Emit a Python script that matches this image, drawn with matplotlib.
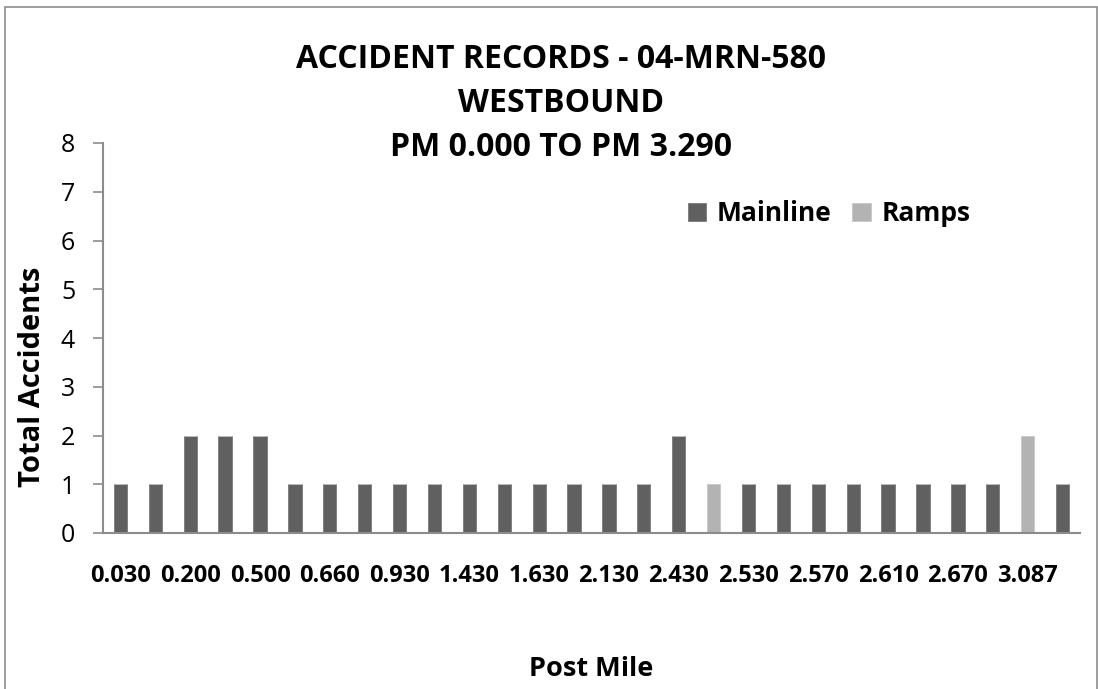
import numpy as np
import matplotlib.pyplot as plt
from matplotlib.patches import Rectangle

plt.rcParams['font.family'] = ['Open Sans', 'DejaVu Sans']

# 28 post-mile categories, only every second label is shown on the chart
shown_labels = ['0.030', '0.200', '0.500', '0.660', '0.930', '1.430', '1.630',
                '2.130', '2.430', '2.530', '2.570', '2.610', '2.670', '3.087']
mainline = [1, 1, 2, 2, 2, 1, 1, 1, 1, 1, 1, 1, 1, 1,
            1, 1, 2, 0, 1, 1, 1, 1, 1, 1, 1, 1, 0, 1]
ramps = [0, 0, 0, 0, 0, 0, 0, 0, 0, 0, 0, 0, 0, 0,
         0, 0, 0, 1, 0, 0, 0, 0, 0, 0, 0, 0, 2, 0]

dark = '#606060'
light = '#b3b3b3'
axis_gray = '#8c8c8c'

fig = plt.figure(figsize=(10.98, 6.89), dpi=100)
ax = fig.add_axes([103/1098, 1 - 533/689, (1080-103)/1098, (533-143)/689])

x = np.arange(len(mainline))
ax.bar(x, mainline, width=0.38, color=dark, edgecolor='#7a7a7a', linewidth=0.6, label='Mainline')
ax.bar(x, ramps, width=0.38, bottom=mainline, color=light, edgecolor='#c8c8c8', linewidth=0.6, label='Ramps')

ax.set_xlim(-0.5, len(mainline) - 0.5)
ax.set_ylim(0, 8)
ax.set_yticks(range(9))
ax.tick_params(axis='y', labelsize=18, length=7, color=axis_gray, width=1.2, pad=13)
ax.set_xticks(x[::2])
ax.set_xticklabels(shown_labels, fontsize=17, fontweight='bold')
ax.tick_params(axis='x', length=0, pad=22)

for s in ['top', 'right']:
    ax.spines[s].set_visible(False)
for s in ['left', 'bottom']:
    ax.spines[s].set_color(axis_gray)
    ax.spines[s].set_linewidth(1.5)

fig.text(561/1098, 1 - 59/689, 'ACCIDENT RECORDS - 04-MRN-580', ha='center', va='center',
         fontsize=23, fontweight='bold')
fig.text(561/1098, 1 - 103/689, 'WESTBOUND', ha='center', va='center',
         fontsize=23, fontweight='bold')
fig.text(561/1098, 1 - 147/689, 'PM 0.000 TO PM 3.290', ha='center', va='center',
         fontsize=23, fontweight='bold')

fig.text(33/1098, 1 - 377/689, 'Total Accidents', rotation=90, ha='center', va='center',
         fontsize=21, fontweight='bold')
fig.text(591/1098, 1 - 669/689, 'Post Mile', ha='center', va='center',
         fontsize=19.5, fontweight='bold')

leg = ax.legend(loc='center', bbox_to_anchor=(829/1098, 1 - 214/689), bbox_transform=fig.transFigure,
                ncol=2, frameon=False, handlelength=0.7, handleheight=0.7, handletextpad=0.4,
                columnspacing=0.8, borderpad=0, prop={'weight': 'bold', 'size': 19})

fig.patches.append(Rectangle((5/1098, -0.05), 1092/1098, 1.05 - 7/689, transform=fig.transFigure,
                             fill=False, edgecolor='#8c8c8c', linewidth=1.2))

fig.savefig('out.png', dpi=100)
